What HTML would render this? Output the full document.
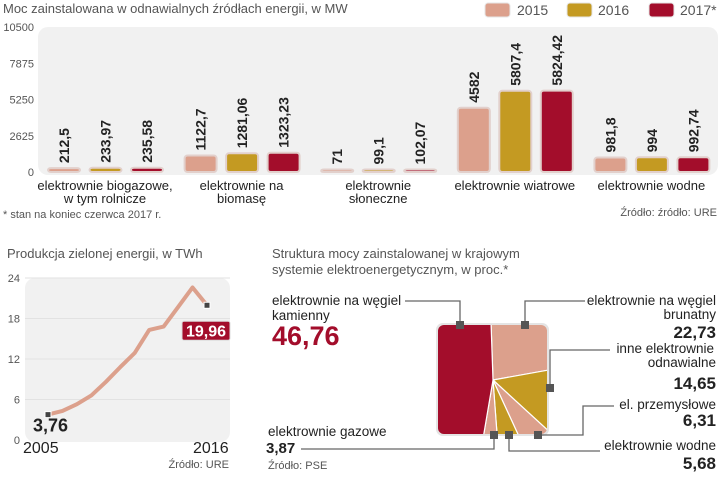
<!DOCTYPE html>
<html><head><meta charset="utf-8"><style>
html,body{margin:0;padding:0;background:#fff;}
svg{display:block;font-family:"Liberation Sans",sans-serif;}
.t{fill:#555;font-size:13px;}
.ax{fill:#555;font-size:11px;}
.cat{fill:#222;font-size:13px;}
.val{fill:#222;font-size:14px;font-weight:bold;}
.lbl{fill:#222;font-size:13.5px;}
.big{fill:#222;font-size:17px;font-weight:bold;}
.src{fill:#555;font-size:11px;}
</style></head><body>
<svg id="s" width="720" height="477" viewBox="0 0 720 477">
<g>
<text class="t" x="3" y="13">Moc zainstalowana w odnawialnych źródłach energii, w MW</text>
<rect x="38" y="27" width="680" height="148" rx="10" fill="#f1f1f1"/>
<g id="bars"></g>
<g>
<rect x="485" y="3" width="25" height="14" rx="3" fill="#dca08c" stroke="#e6e6e6"/>
<text class="t" x="517" y="15" style="font-size:14px">2015</text>
<rect x="567" y="3" width="25" height="14" rx="3" fill="#c49a22" stroke="#e6e6e6"/>
<text class="t" x="598" y="15" style="font-size:14px">2016</text>
<rect x="649" y="3" width="25" height="14" rx="3" fill="#a30d2b" stroke="#e6e6e6"/>
<text class="t" x="680" y="15" style="font-size:14px">2017*</text>
</g>
<text class="src" x="3" y="218">* stan na koniec czerwca 2017 r.</text>
<text class="src" x="717" y="216" text-anchor="end">Źródło: źródło: URE</text>
</g>

<g>
<text class="t" x="7" y="258">Produkcja zielonej energii, w TWh</text>
<rect x="25" y="278" width="205" height="164" rx="10" fill="#f1f1f1"/>
<g id="line"></g>
<text class="src" x="229" y="468" text-anchor="end">Źródło: URE</text>
</g>

<g>
<text class="t" x="272" y="258">Struktura mocy zainstalowanej w krajowym</text>
<text class="t" x="272" y="274">systemie elektroenergetycznym, w proc.*</text>
<defs><clipPath id="sq"><rect x="438" y="325" width="109" height="109" rx="6"/></clipPath></defs>
<rect x="436" y="323" width="113" height="113" rx="7" fill="#e4e4e4"/>
<g id="pie" clip-path="url(#sq)"></g>
<g fill="none" stroke="#666" stroke-width="1.3">
<polyline points="405,301 460,301 460,325"/>
<polyline points="585,301 525,301 525,325"/>
<polyline points="610,350 550,350 550,387"/>
<polyline points="614,406 583,406 583,435 538,435"/>
<polyline points="600,451 509,451 509,436"/>
<polyline points="301,449 494,449 494,436"/>
</g>
<g fill="#555">
<rect x="456" y="321" width="8" height="8"/><rect x="521" y="321" width="8" height="8"/>
<rect x="546" y="384" width="8" height="8"/><rect x="534" y="431" width="8" height="8"/>
<rect x="505" y="431" width="8" height="8"/><rect x="490" y="431" width="8" height="8"/>
</g>
<text class="lbl" x="272" y="305">elektrownie na węgiel</text>
<text class="lbl" x="272" y="320">kamienny</text>
<text x="272" y="345" style="fill:#a30d2b;font-size:27px;font-weight:bold">46,76</text>
<text class="lbl" x="716" y="305" text-anchor="end">elektrownie na węgiel</text>
<text class="lbl" x="716" y="319" text-anchor="end">brunatny</text>
<text class="big" x="716" y="338" text-anchor="end">22,73</text>
<text class="lbl" x="714" y="353" text-anchor="end">inne elektrownie</text>
<text class="lbl" x="716" y="367" text-anchor="end">odnawialne</text>
<text class="big" x="716" y="389" text-anchor="end">14,65</text>
<text class="lbl" x="716" y="409" text-anchor="end">el. przemysłowe</text>
<text class="big" x="716" y="426" text-anchor="end">6,31</text>
<text class="lbl" x="716" y="450" text-anchor="end">elektrownie wodne</text>
<text class="big" x="716" y="469" text-anchor="end">5,68</text>
<text class="lbl" x="268" y="436">elektrownie gazowe</text>
<text class="big" x="266" y="453" style="font-size:15px">3,87</text>
<text class="src" x="268" y="469">Źródło: PSE</text>
</g>
</svg>
<script>
const categories = [["elektrownie biogazowe,","w tym rolnicze"],["elektrownie na","biomasę"],["elektrownie","słoneczne"],["elektrownie wiatrowe"],["elektrownie wodne"]];
const v2015 = [212.5, 1122.7, 71, 4582, 981.8];
const v2016 = [233.97, 1281.06, 99.1, 5807.4, 994];
const v2017 = [235.58, 1323.23, 102.07, 5824.42, 992.74];
const l2015 = ["212,5","1122,7","71","4582","981,8"];
const l2016 = ["233,97","1281,06","99,1","5807,4","994"];
const l2017 = ["235,58","1323,23","102,07","5824,42","992,74"];
const yTicks = [0, 2625, 5250, 7875, 10500];

const years = [2005,2006,2007,2008,2009,2010,2011,2012,2013,2014,2015,2016];
const prod = [3.76,4.3,5.3,6.6,8.6,10.8,12.9,16.3,16.8,19.7,22.6,19.96];
const lineTicks = [0,6,12,18,24];

const pieNames = ["brunatny","inne","przemyslowe","wodne","gazowe","kamienny"];
const pieValues = [22.73,14.65,6.31,5.68,3.87,46.76];

const NS="http://www.w3.org/2000/svg";
function mk(tag, attrs, parent, text){const e=document.createElementNS(NS,tag);for(const k in attrs)e.setAttribute(k,attrs[k]);if(text!==undefined)e.textContent=text;parent.appendChild(e);return e;}

// bar chart
const by=v=>172-v*145/10500;
const gx=i=>48+i*136.6;
const bars=document.getElementById('bars');
yTicks.forEach(t=>{const e=mk('text',{class:'ax',x:34,y:by(t)+4,'text-anchor':'end'},bars,String(t));

});
const series=[[v2015,l2015,'#dca08c'],[v2016,l2016,'#c49a22'],[v2017,l2017,'#a30d2b']];
categories.forEach((c,i)=>{
 series.forEach((s,j)=>{
  const x=gx(i)+j*41.5, v=s[0][i], h=Math.max(v*145/10500,1.5);
  const r=mk('rect',{x:x,y:172-h-1,width:32,height:h+1,rx:3,fill:s[2],stroke:'#e2d0cc','stroke-width':2},bars);
  
  
  const tx=x+21, ty=172-h-6;
  const t=mk('text',{class:'val',x:0,y:0,transform:`translate(${tx},${ty}) rotate(-90)`},bars,s[1][i]);
  
  
 });
 c.forEach((line,k)=>{const t=mk('text',{class:'cat',x:gx(i)+57,y:190+k*13,'text-anchor':'middle'},bars,line);
 
 });
});

// line chart
const lg=document.getElementById('line');
const lx=y=>48+(y-2005)*(207-48)/11;
const ly=v=>440-v*162/24;
lineTicks.forEach(t=>{
 if(t>0){const g=mk('line',{x1:25,x2:230,y1:ly(t),y2:ly(t),stroke:'#e2e2e2'},lg);
 
 }
 const e=mk('text',{class:'ax',x:20,y:ly(t)+4,'text-anchor':'end'},lg,String(t));
 
 
});
const pl=mk('polyline',{points:years.map((y,i)=>lx(y)+','+ly(prod[i])).join(' '),fill:'none',stroke:'#dca08c','stroke-width':4,'stroke-linejoin':'round'},lg);


[0,years.length-1].forEach(i=>{const m=mk('rect',{x:lx(years[i])-3,y:ly(prod[i])-3,width:6,height:6,fill:'#444',stroke:'#fff','stroke-width':1},lg);

});
const fl=String(prod[0]).replace('.',','), ll=String(prod[prod.length-1]).replace('.',',');
const t1=mk('text',{class:'big',x:33,y:ly(prod[0])+17,style:'font-size:18px'},lg,fl);


const bx=mk('rect',{x:182,y:ly(prod[prod.length-1])+16,width:48,height:19,rx:2,fill:'#a30d2b',stroke:'#ddd'},lg);


const t2=mk('text',{x:206,y:ly(prod[prod.length-1])+31,'text-anchor':'middle',style:'fill:#fff;font-size:16px;font-weight:bold'},lg,ll);


const xa=mk('text',{class:'lbl',x:23,y:453,style:'font-size:16px'},lg,String(years[0]));


const xb=mk('text',{class:'lbl',x:193,y:453,style:'font-size:16px'},lg,String(years[years.length-1]));



// pie
const pg=document.getElementById('pie');
const pieColors=['#dca08c','#c49a22','#dca08c','#c49a22','#dca08c','#a30d2b'];
const cx=493, cy=380, R=120;
const total=pieValues.reduce((a,b)=>a+b,0);
let ang=-2*Math.PI/180;
pieValues.forEach((v,i)=>{
 const a2=ang+v/total*2*Math.PI;
 const p=(a)=>[cx+R*Math.sin(a),cy-R*Math.cos(a)];
 const [x1,y1]=p(ang),[x2,y2]=p(a2);
 const large=(a2-ang)>Math.PI?1:0;
 const s=mk('path',{d:`M${cx},${cy} L${x1},${y1} A${R},${R} 0 ${large} 1 ${x2},${y2} Z`,fill:pieColors[i],stroke:'#fff','stroke-width':1.2},pg);
 
 
 ang=a2;
});
</script>
</body></html>
